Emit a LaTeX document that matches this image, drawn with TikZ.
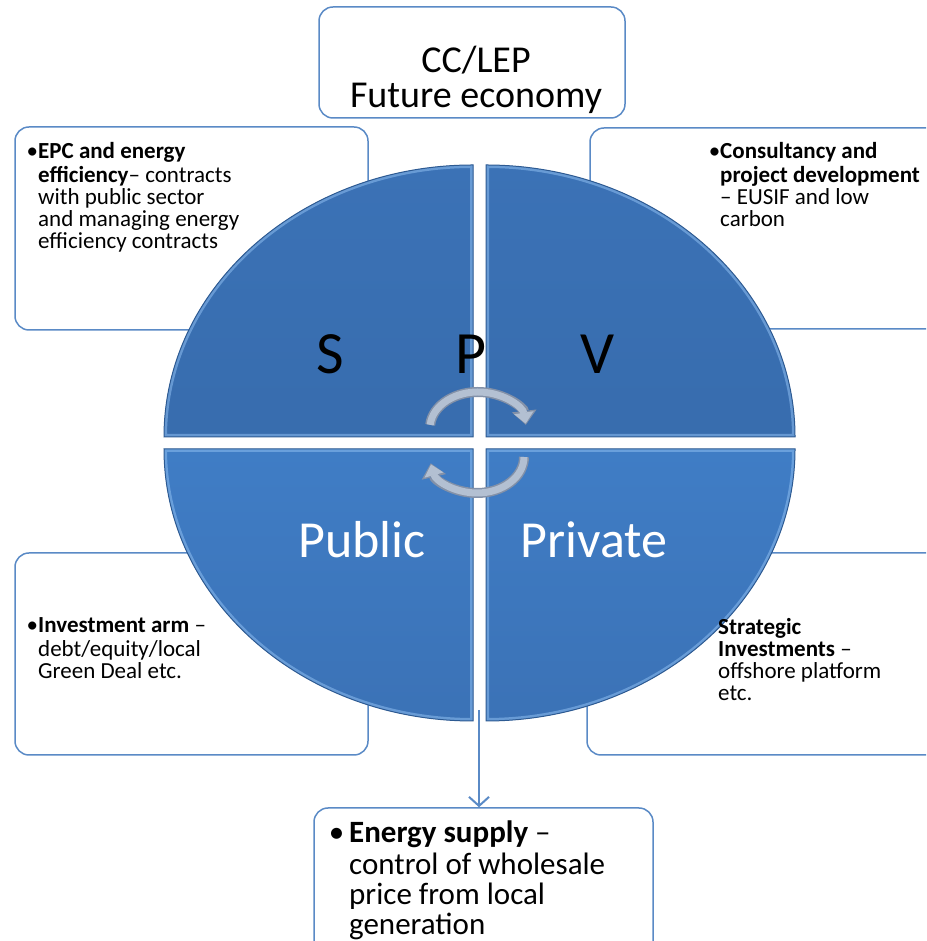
\documentclass[tikz,border=0pt]{standalone}
\usepackage{fontspec}
\setmainfont{Carlito}
\usetikzlibrary{arrows.meta,positioning}
\definecolor{boxblue}{HTML}{5A8AC6}
\definecolor{spvdark}{HTML}{3467A6}
\definecolor{spvmid}{HTML}{3B72B6}
\definecolor{spvlight}{HTML}{4488D5}
\definecolor{bevel}{HTML}{8DBDF0}
\definecolor{edgeblue}{HTML}{2D5A92}
\definecolor{turngray}{HTML}{B3C0D2}
\definecolor{turnedge}{HTML}{8391A8}
\tikzset{
  infobox/.style={draw=boxblue,line width=1.5pt,fill=white,rounded corners=14pt,inner sep=0pt},
  boxtext/.style={anchor=north west,align=left,inner sep=0pt,font=\fontsize{23}{22}\selectfont},
  spvletter/.style={anchor=base,inner sep=0pt,font=\fontsize{60}{60}\selectfont},
  sidelabel/.style={anchor=base,inner sep=0pt,text=white,font=\fontsize{52}{52}\selectfont},
}
\begin{document}
\begin{tikzpicture}[x=1pt,y=1pt,>=Stealth]
\clip (0,0) rectangle (926,941);
\fill[white] (0,0) rectangle (926,941);
% boxes round the SPV disc
\node[infobox,minimum width=306,minimum height=111] (lepbox) at (472,878.5) {};
\node[infobox,minimum width=353,minimum height=203] (epcbox) at (191.5,712.5) {};
\node[infobox,minimum width=360,minimum height=201] (consultbox) at (770,712.5) {};
\node[infobox,minimum width=353,minimum height=202] (investbox) at (191.5,287) {};
\node[infobox,minimum width=363,minimum height=202] (strategicbox) at (768.5,287) {};
\node[infobox,minimum width=339,minimum height=153] (supplybox) at (483.5,56.5) {};
% four quarters of the disc
\foreach \cx/\cy/\sa/\ea/\tc/\bc in {473/504/180/90/spvmid/spvdark,486/504/90/0/spvmid/spvdark,
    473/492/180/270/spvlight/spvmid,486/492/270/360/spvlight/spvmid}{
  \begin{scope}
    \clip (\cx,\cy) -- ++(\sa:309 and 272) arc[start angle=\sa,end angle=\ea,x radius=309,y radius=272] -- cycle;
    \shade[top color=\tc,bottom color=\bc] (\cx-310,\cy-273) rectangle (\cx+310,\cy+273);
    \draw[bevel,line width=6pt,opacity=.55] (\cx,\cy) -- ++(\sa:309 and 272)
      arc[start angle=\sa,end angle=\ea,x radius=309,y radius=272] -- cycle;
  \end{scope}
  \draw[edgeblue,line width=1pt] (\cx,\cy) -- ++(\sa:309 and 272)
    arc[start angle=\sa,end angle=\ea,x radius=309,y radius=272] -- cycle;
}
% turning arrows in the middle
\draw[turnedge,line width=10pt,-{Triangle[length=14pt,width=24pt]}] (478,513) ++(175:48 and 36)
  arc[start angle=175,end angle=5,x radius=48,y radius=36];
\draw[turngray,line width=7pt,-{Triangle[length=11pt,width=19pt]}] (478,513) ++(175:48 and 36)
  arc[start angle=175,end angle=7,x radius=48,y radius=36];
\draw[turnedge,line width=10pt,-{Triangle[length=14pt,width=24pt]}] (477,484) ++(0:47 and 36)
  arc[start angle=0,end angle=-170,x radius=47,y radius=36];
\draw[turngray,line width=7pt,-{Triangle[length=11pt,width=19pt]}] (477,484) ++(0:47 and 36)
  arc[start angle=0,end angle=-168,x radius=47,y radius=36];
% labels on the disc
\node[spvletter] (sletter) at (330,567) {S};
\node[spvletter] (pletter) at (471,567) {P};
\node[spvletter] (vletter) at (598,567) {V};
\node[sidelabel] (publiclabel) at (362,383) {Public};
\node[sidelabel] (privatelabel) at (594,383) {Private};
% box texts
\node[anchor=north,align=center,inner sep=0pt,font=\fontsize{38}{33}\selectfont] (leptext) at (476,895)
  {\strut CC/LEP\\ Future economy};
\node[boxtext] (epctext) at (38,799) {\strut\llap{\textbullet}\textbf{EPC and energy}\\
  \textbf{efficiency}-- contracts\\ with public sector\\ and managing energy\\ efficiency contracts};
\node[boxtext] (consulttext) at (720,799) {\strut\llap{\textbullet}\textbf{Consultancy and}\\
  \textbf{project development}\\ -- EUSIF and low\\ carbon};
\node[boxtext] (investtext) at (38,324) {\strut\llap{\textbullet}\textbf{Investment arm} --\\
  debt/equity/local\\ Green Deal etc.};
\node[boxtext] (strategictext) at (718,323) {\strut\textbf{Strategic}\\ \textbf{Investments} --\\
  offshore platform\\ etc.};
\node[boxtext,font=\fontsize{31}{30}\selectfont] (supplytext) at (349,120)
  {\strut\llap{\textbullet\hspace{5pt}}\textbf{Energy supply} --\\ control of wholesale\\
  price from local\\ generation};
% arrow down to energy supply
\coordinate (spvfoot) at (479,231);
\draw[boxblue,line width=2pt,-{Straight Barb[length=9pt,width=20pt]}] (spvfoot) -- (spvfoot |- supplybox.north);
\end{tikzpicture}
\end{document}
